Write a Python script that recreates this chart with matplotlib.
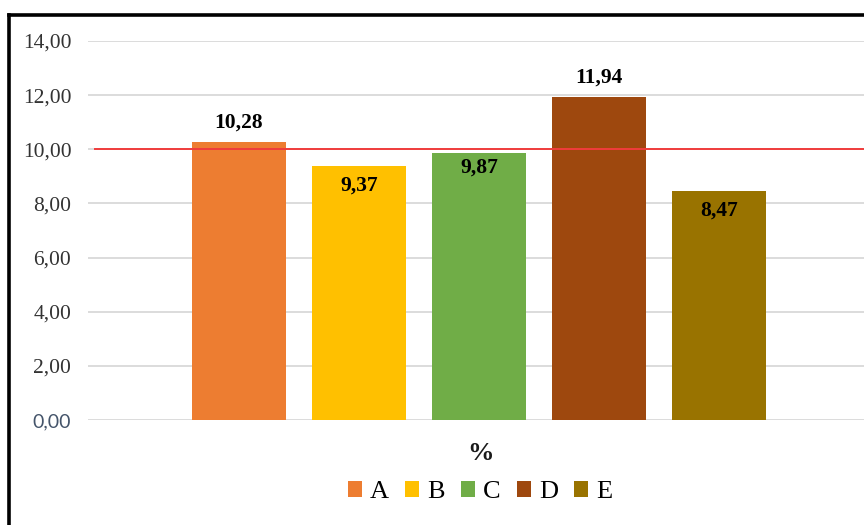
import matplotlib
matplotlib.use('Agg')
import matplotlib.pyplot as plt
from matplotlib.lines import Line2D
from matplotlib.patches import Patch

# data
categories = ['A', 'B', 'C', 'D', 'E']
values = [10.28, 9.37, 9.87, 11.94, 8.47]
colors = ['#ED7D31', '#FFC000', '#70AD47', '#9E480E', '#997300']
y_ticks = [0, 2, 4, 6, 8, 10, 12, 14]
reference = 10.0

# label offsets in points (some labels sit inside the bar top)
label_offsets = [14, -14, -11, 14, -14]

plt.rcParams['font.family'] = ['Liberation Serif', 'DejaVu Serif']

fig = plt.figure(figsize=(8.64, 5.25), dpi=100)
ax = fig.add_axes([88 / 864, 1 - 420 / 525, 782 / 864, 379 / 525])

x = list(range(len(categories)))
ax.bar(x, values, width=0.79, color=colors, zorder=2)
ax.set_xlim(-1.258, len(categories) - 1 + 1.258)
ax.set_ylim(0, 14)
ax.set_yticks(y_ticks)
ax.set_yticklabels([f'{t:.2f}'.replace('.', ',') for t in y_ticks],
                   fontsize=15.5, color='#333333')
ax.set_xticks([])
ax.tick_params(axis='y', length=0, pad=12)
ax.yaxis.grid(True, color='#D9D9D9', lw=1.3, zorder=0)
for s in ax.spines.values():
    s.set_visible(False)

# the zero label is drawn in a sans font in the original
zero_lab = ax.get_yticklabels()[0]
zero_lab.set_fontfamily('Lato')
zero_lab.set_fontsize(14)
zero_lab.set_color('#44546A')

ax.axhline(reference, xmin=0.009, xmax=1, color='#F03C3C', lw=1.4, zorder=3)

for xi, v, off in zip(x, values, label_offsets):
    ax.annotate(f'{v:.2f}'.replace('.', ','), (xi, v), xytext=(0, off),
                textcoords='offset points', ha='center', va='center',
                fontsize=15.5, fontweight='bold', color='black', zorder=4)

fig.text(480 / 864, 1 - 454 / 525, '%', ha='center', va='center',
         fontsize=19, fontweight='bold', color='#1a1a1a')

handles = [Patch(facecolor=c, edgecolor='none', label=l) for c, l in zip(colors, categories)]
fig.legend(handles=handles, loc='center', bbox_to_anchor=(480 / 864, 1 - 492 / 525),
           ncol=5, frameon=False, prop={'size': 19},
           handlelength=0.55, handleheight=0.55, handletextpad=0.3,
           columnspacing=0.6, borderpad=0)

# outer border (left and top visible)
bx = 9 / 864
by = 1 - 15 / 525
fig.add_artist(Line2D([bx, bx], [0, by], transform=fig.transFigure, color='black', lw=2.6))
fig.add_artist(Line2D([bx, 1.0], [by, by], transform=fig.transFigure, color='black', lw=2.6))

fig.savefig('out.png', dpi=100, facecolor='white')
